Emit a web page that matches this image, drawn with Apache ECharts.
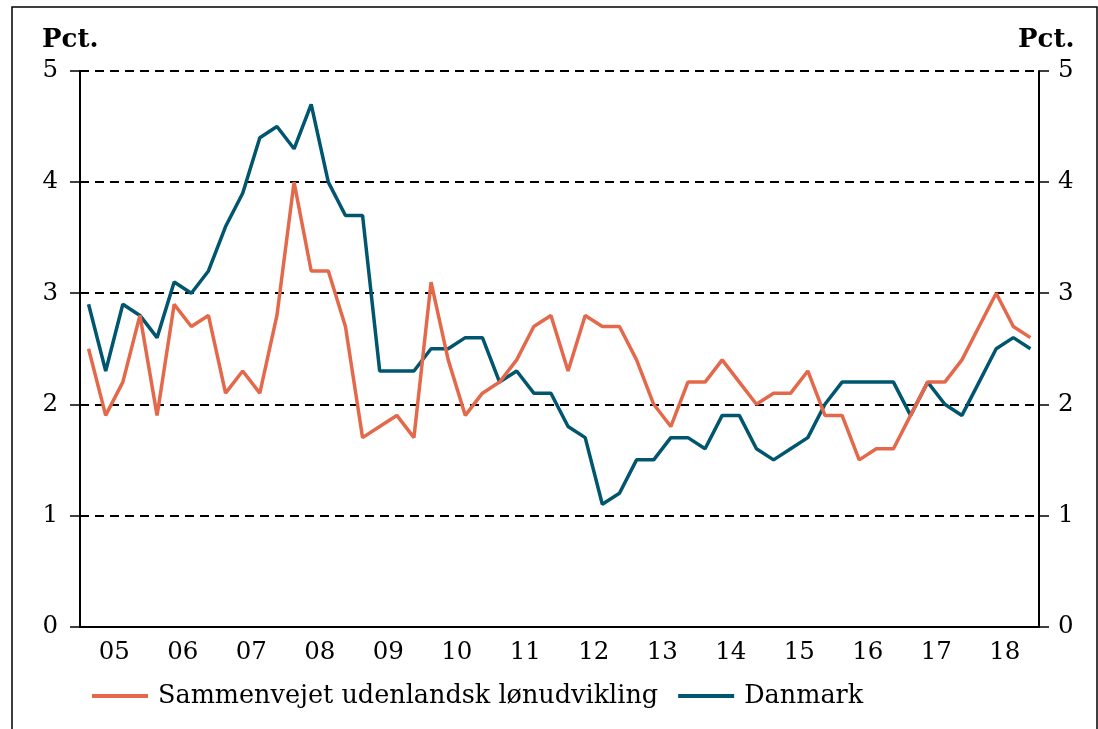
<!DOCTYPE html>
<html>
<head>
<meta charset="utf-8">
<script src="https://cdn.jsdelivr.net/npm/echarts@6/dist/echarts.min.js"></script>
<style>
html,body{margin:0;padding:0;background:#fff;}
#c{width:1098px;height:729px;}
</style>
</head>
<body>
<div id="c"></div>
<script>
// Quarters 2005K1 .. 2018K4
const years = ['05','06','07','08','09','10','11','12','13','14','15','16','17','18'];
const quarters = [];
years.forEach(function (y) { for (let q = 1; q <= 4; q++) quarters.push('20' + y + 'K' + q); });

const foreignWages = [
  2.5, 1.9, 2.2, 2.8, 1.9, 2.9, 2.7, 2.8,
  2.1, 2.3, 2.1, 2.8, 4.0, 3.2, 3.2, 2.7,
  1.7, 1.8, 1.9, 1.7, 3.1, 2.4, 1.9, 2.1,
  2.2, 2.4, 2.7, 2.8, 2.3, 2.8, 2.7, 2.7,
  2.4, 2.0, 1.8, 2.2, 2.2, 2.4, 2.2, 2.0,
  2.1, 2.1, 2.3, 1.9, 1.9, 1.5, 1.6, 1.6,
  1.9, 2.2, 2.2, 2.4, 2.7, 3.0, 2.7, 2.6
];
const denmark = [
  2.9, 2.3, 2.9, 2.8, 2.6, 3.1, 3.0, 3.2,
  3.6, 3.9, 4.4, 4.5, 4.3, 4.7, 4.0, 3.7,
  3.7, 2.3, 2.3, 2.3, 2.5, 2.5, 2.6, 2.6,
  2.2, 2.3, 2.1, 2.1, 1.8, 1.7, 1.1, 1.2,
  1.5, 1.5, 1.7, 1.7, 1.6, 1.9, 1.9, 1.6,
  1.5, 1.6, 1.7, 2.0, 2.2, 2.2, 2.2, 2.2,
  1.9, 2.2, 2.0, 1.9, 2.2, 2.5, 2.6, 2.5
];
const seriesNames = ['Sammenvejet udenlandsk lønudvikling', 'Danmark'];
const yTicks = [0, 1, 2, 3, 4, 5];

const FONT = 'DejaVu Serif';
const ORANGE = '#E4694B';
const TEAL = '#00566E';

const chart = echarts.init(document.getElementById('c'), null, {renderer: 'canvas'});
chart.setOption({
  animation: false,
  backgroundColor: '#fff',
  grid: {left: 80, right: 59, top: 71, bottom: 102.5, containLabel: false},
  graphic: [
    {type: 'rect', shape: {x: 12, y: 7, width: 1085, height: 740}, style: {fill: 'none', stroke: '#000', lineWidth: 1.5}, silent: true},
    {type: 'text', left: 42, top: 27, style: {text: 'Pct.', font: 'bold 26px "' + FONT + '"', fill: '#000'}},
    {type: 'text', left: 1018, top: 27, style: {text: 'Pct.', font: 'bold 26px "' + FONT + '"', fill: '#000'}}
  ],
  legend: {
    left: 92, top: 683, padding: 0, itemWidth: 56, itemHeight: 4, itemGap: 20,
    icon: 'rect',
    data: seriesNames,
    textStyle: {fontFamily: FONT, fontSize: 25.5, color: '#000', padding: [0, 0, 0, 5]}
  },
  xAxis: [
    {
      type: 'category', data: quarters, boundaryGap: true, position: 'bottom',
      axisLine: {onZero: false, lineStyle: {color: '#000', width: 2}},
      axisTick: {interval: 0, length: 5, lineStyle: {color: '#000', width: 1.5}},
      axisLabel: {show: false}, splitLine: {show: false}
    },
    {
      type: 'category', data: years, boundaryGap: true, position: 'bottom',
      axisLine: {show: false, onZero: false},
      axisTick: {interval: 0, length: 8, lineStyle: {color: '#000', width: 1.5}},
      axisLabel: {interval: 0, margin: 14, fontFamily: FONT, fontSize: 24.5, color: '#000'},
      splitLine: {show: false}
    }
  ],
  yAxis: [
    {
      type: 'value', min: yTicks[0], max: yTicks[yTicks.length - 1], interval: 1, position: 'left',
      axisLine: {show: true, lineStyle: {color: '#000', width: 2}},
      axisTick: {show: true, length: 10, lineStyle: {color: '#000', width: 1.5}},
      axisLabel: {margin: 22, fontFamily: FONT, fontSize: 24.5, color: '#000'},
      splitLine: {show: true, lineStyle: {color: '#000', width: 1.8, type: [9, 6]}}
    },
    {
      type: 'value', min: yTicks[0], max: yTicks[yTicks.length - 1], interval: 1, position: 'right',
      axisLine: {show: true, lineStyle: {color: '#000', width: 2}},
      axisTick: {show: true, length: 10, lineStyle: {color: '#000', width: 1.5}},
      axisLabel: {margin: 19, fontFamily: FONT, fontSize: 24.5, color: '#000'},
      splitLine: {show: false}
    }
  ],
  series: [
    {
      name: seriesNames[1], type: 'line', data: denmark, xAxisIndex: 0, yAxisIndex: 0,
      symbol: 'none', z: 2, color: TEAL,
      lineStyle: {color: TEAL, width: 3.5}
    },
    {
      name: seriesNames[0], type: 'line', data: foreignWages, xAxisIndex: 0, yAxisIndex: 0,
      symbol: 'none', z: 3, color: ORANGE,
      lineStyle: {color: ORANGE, width: 3.5}
    }
  ]
});
</script>
</body>
</html>
